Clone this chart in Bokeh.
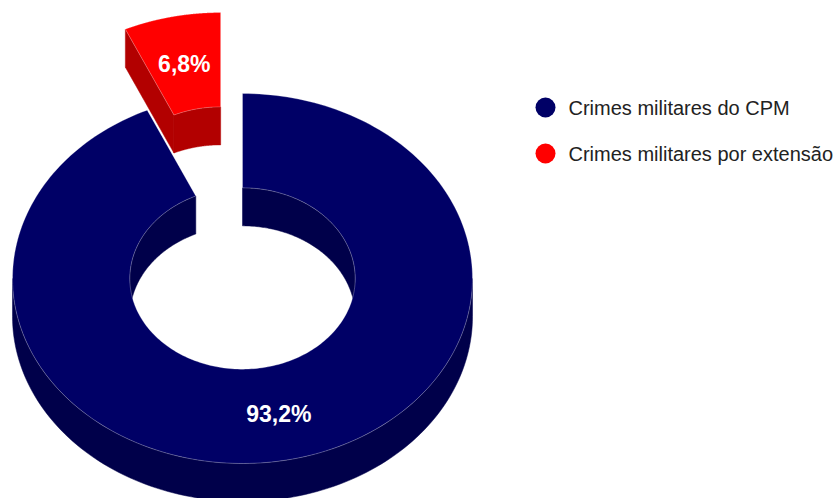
import numpy as np
from bokeh.plotting import figure
from bokeh.models import Range1d
from bokeh.core.properties import value
from bokeh.embed import file_html
from bokeh.resources import INLINE

# ---- data ----
categories = ["Crimes militares do CPM", "Crimes militares por extensão"]
values = [93.2, 6.8]
labels = ["93,2%", "6,8%"]
top_colors = ["#000066", "#ff0000"]
side_colors = ["#00004a", "#b20000"]
exploded = [False, True]

# ---- layout params ----
W, H = 838, 498
CX, CY = 242.0, 278.0
RX, RY = 230.0, 185.0
HOLE = 0.49
DEPTH = 38.0
EXPLODE = 103.0  # in x-radius units (pixels)

p = figure(width=W, height=H, output_backend="svg", toolbar_location=None,
           x_range=Range1d(0, W), y_range=Range1d(H, 0), min_border=0)
p.axis.visible = False
p.grid.visible = False
p.outline_line_color = None
p.background_fill_color = "white"
p.border_fill_color = "white"


def pt(cx, cy, r, ang, dy=0.0):
    a = np.radians(ang)
    return cx + r * np.sin(a), cy - r * (RY / RX) * np.cos(a) + dy


def arc(cx, cy, r, a0, a1, dy=0.0, n=120):
    angs = np.linspace(a0, a1, n)
    xs, ys = pt(cx, cy, r, angs, dy)
    return list(xs), list(ys)


def intersect(s, e, vis):
    out = []
    for v0, v1 in vis:
        a, b = max(s, v0), min(e, v1)
        if b > a:
            out.append((a, b))
    return out


total = sum(values)
starts = np.cumsum([0] + values[:-1]) / total * 360.0
ends = np.cumsum(values) / total * 360.0
ri = RX * HOLE
ro = RX

# draw in reverse order so the exploded back slice sits behind
order = list(range(len(values)))[::-1]
for i in order:
    s, e = starts[i], ends[i]
    mid = (s + e) / 2
    if exploded[i]:
        ox = EXPLODE * np.sin(np.radians(mid))
        oy = -EXPLODE * (RY / RX) * np.cos(np.radians(mid))
    else:
        ox, oy = 0.0, 0.0
    cx, cy = CX + ox, CY + oy
    side = side_colors[i]
    # inner wall (back half visible)
    for a, b in intersect(s, e, [(0, 90), (270, 360)]):
        x1, y1 = arc(cx, cy, ri, a, b)
        x2, y2 = arc(cx, cy, ri, b, a, DEPTH)
        p.patch(x1 + x2, y1 + y2, fill_color=side, line_color=side, line_width=0.5)
    # outer wall (front half visible)
    for a, b in intersect(s, e, [(90, 270)]):
        x1, y1 = arc(cx, cy, ro, a, b)
        x2, y2 = arc(cx, cy, ro, b, a, DEPTH)
        p.patch(x1 + x2, y1 + y2, fill_color=side, line_color=side, line_width=0.5)
    # radial faces
    if np.sin(np.radians(s)) < -1e-6:
        xo, yo = pt(cx, cy, ro, s)
        xi, yi = pt(cx, cy, ri, s)
        p.patch([xo, xi, xi, xo], [yo, yi, yi + DEPTH, yo + DEPTH],
                fill_color=side, line_color=side, line_width=0.5)
    if np.sin(np.radians(e)) > 1e-6:
        xo, yo = pt(cx, cy, ro, e)
        xi, yi = pt(cx, cy, ri, e)
        p.patch([xo, xi, xi, xo], [yo, yi, yi + DEPTH, yo + DEPTH],
                fill_color=side, line_color=side, line_width=0.5)
    # top surface
    x1, y1 = arc(cx, cy, ro, s, e, n=240)
    x2, y2 = arc(cx, cy, ri, e, s, n=240)
    p.patch(x1 + x2, y1 + y2, fill_color=top_colors[i], line_color="white",
            line_alpha=0.35, line_width=0.8)
    # label
    lx, ly = pt(cx, cy, (ro + ri) / 2, mid)
    p.text(x=[lx], y=[ly + 1], text=[labels[i]], text_color="white",
           text_font=value("Liberation Sans"), text_font_style="bold",
           text_font_size="23px", text_align="center", text_baseline="middle")

# legend
leg_y = [107, 153]
p.scatter(x=[545] * len(categories), y=leg_y, size=20, color=top_colors,
          line_color=None)
p.text(x=[568] * len(categories), y=leg_y, text=categories, text_color="#222222",
       text_font=value("Liberation Sans"), text_font_size="20px",
       text_align="left", text_baseline="middle")

open("out.html", "w").write(file_html(p, INLINE))
